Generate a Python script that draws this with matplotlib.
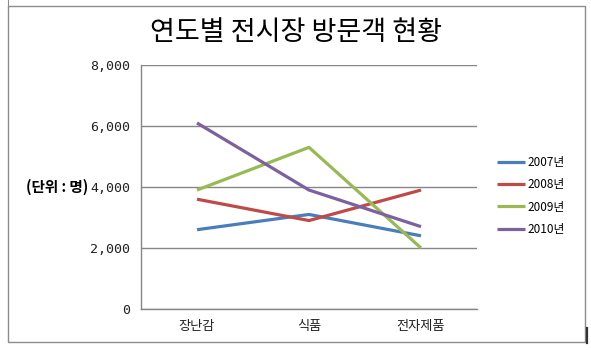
import matplotlib
matplotlib.use("Agg")
import matplotlib.pyplot as plt
from matplotlib.patches import Rectangle
from matplotlib.lines import Line2D
from matplotlib.ticker import FuncFormatter

plt.rcParams['font.family'] = ['Noto Sans CJK KR', 'DejaVu Sans']

categories = ["장난감", "식품", "전자제품"]
series_names = ["2007년", "2008년", "2009년", "2010년"]
visitors_2007 = [2600, 3100, 2400]
visitors_2008 = [3600, 2900, 3900]
visitors_2009 = [3900, 5300, 2000]
visitors_2010 = [6100, 3900, 2700]
y_ticks = [0, 2000, 4000, 6000, 8000]

series = [visitors_2007, visitors_2008, visitors_2009, visitors_2010]
colors = ["#4A7EBB", "#BE4B48", "#98B954", "#7D60A0"]

W, H = 591, 350
fig = plt.figure(figsize=(W / 100, H / 100), dpi=100)
fig.patch.set_facecolor("white")

# outer chart frame
fig.add_artist(Rectangle((8 / W, (H - 342) / H), 577 / W, 336 / H,
                         transform=fig.transFigure, fill=False,
                         edgecolor="#8C8C8C", linewidth=1.0))
fig.add_artist(Line2D([8 / W, 8 / W], [(H - 6) / H, 1.0], transform=fig.transFigure,
                      color="#8C8C8C", linewidth=0.8))
fig.add_artist(Line2D([587 / W, 587 / W], [(H - 343) / H, (H - 328) / H],
                      transform=fig.transFigure, color="#333333", linewidth=1.6))

ax = fig.add_axes([141 / W, (H - 309) / H, 336 / W, 244 / H])
x = list(range(len(categories)))
for vals, name, c in zip(series, series_names, colors):
    ax.plot(x, vals, color=c, linewidth=2.3, label=name, solid_capstyle="butt")

ax.set_xlim(-0.5, len(categories) - 0.5)
ax.set_ylim(0, 8000)
ax.set_yticks(y_ticks)
ax.yaxis.set_major_formatter(FuncFormatter(lambda v, p: f"{int(v):,}"))
ax.set_xticks(x)
ax.set_xticklabels(categories, fontsize=9.5)
ax.tick_params(axis="y", length=0, pad=8, labelsize=9.5, labelcolor="#222222")
for lbl in ax.get_yticklabels():
    lbl.set_fontfamily("DejaVu Sans Mono")
ax.tick_params(axis="x", length=0, pad=8, labelcolor="#222222")
ax.grid(axis="y", color="#868686", linewidth=1.0)
ax.set_axisbelow(True)
for s in ["top", "right"]:
    ax.spines[s].set_visible(False)
for s in ["left", "bottom"]:
    ax.spines[s].set_color("#868686")
    ax.spines[s].set_linewidth(1.0)

fig.text(296 / W, (H - 32) / H, "연도별 전시장 방문객 현황", ha="center", va="center",
         fontsize=19.5, fontweight="medium", color="black")
fig.text(57 / W, (H - 187) / H, "(단위 : 명)", ha="center", va="center",
         fontsize=10.5, fontweight="bold", color="black")

leg = ax.legend(loc="center left", bbox_to_anchor=(492 / W, (H - 196) / H),
                bbox_transform=fig.transFigure, frameon=False, fontsize=8.5,
                handlelength=2.4, handletextpad=0.2, labelspacing=0.78,
                borderaxespad=0)

fig.savefig("out.png", dpi=100, facecolor="white")
